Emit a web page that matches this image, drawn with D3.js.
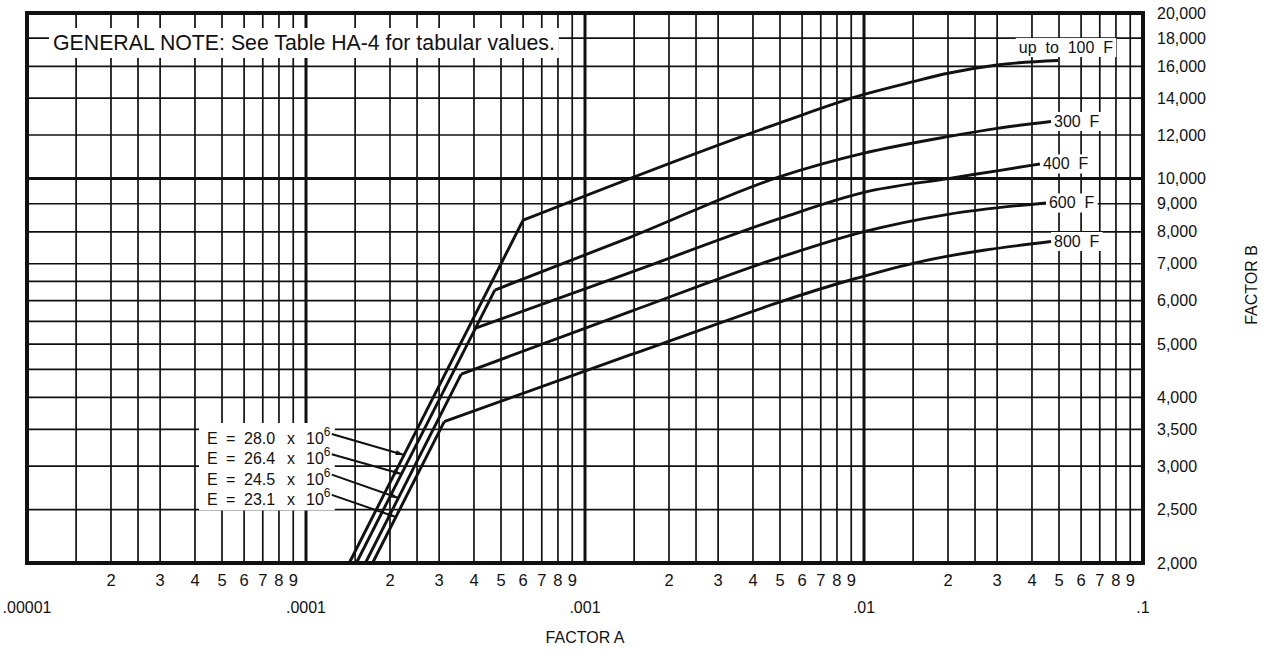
<!DOCTYPE html>
<html>
<head>
<meta charset="utf-8">
<script src="https://cdn.jsdelivr.net/npm/d3@7"></script>
<style>
  html, body { margin: 0; padding: 0; background: #fff; }
  svg { display: block; font-family: "Liberation Sans", Arial, Helvetica, sans-serif; }
  text { fill: #111; }
</style>
</head>
<body>
<svg id="chart" width="1267" height="650"></svg>
<script>
// ---- Factor A (horizontal, log) ----
const decades = [1e-5, 1e-4, 1e-3, 1e-2, 1e-1];
const decadeLabels = [".00001", ".0001", ".001", ".01", ".1"];
const gridMultipliers = [1.5, 2, 2.5, 3, 4, 5, 6, 7, 8, 9];
const digitLabels = [2, 3, 4, 5, 6, 7, 8, 9];

// ---- Factor B (vertical, log) ----
const bTickValues = [2000, 2500, 3000, 3500, 4000, 5000, 6000, 7000, 8000, 9000, 10000, 12000, 14000, 16000, 18000, 20000];
const bGridValues = [2500, 3000, 3500, 4000, 4500, 5000, 5500, 6000, 6500, 7000, 8000, 9000, 10000, 12000, 14000, 16000, 18000];

// ---- Moduli of elasticity (elastic lines B = E*A/2) ----
const modulusValues = [28.0e6, 26.4e6, 24.5e6, 23.1e6];
const modulusLabels = ["28.0", "26.4", "24.5", "23.1"];
const modulusPointerB = [3144, 2903, 2626, 2425];

// ---- Temperature curves (A, B); first point is the knee on the elastic line ----
const tempLabels = ["up  to  100  F", "300  F", "400  F", "600  F", "800  F"];
const tempModulusIndex = [0, 1, 1, 2, 3];
const curve100F = [[6.0e-4, 8400], [5.0e-3, 12630], [1.0e-2, 14220], [1.5e-2, 15000], [2.0e-2, 15540], [3.0e-2, 16090], [4.96e-2, 16390]];
const curve300F = [[4.75e-4, 6270], [1.45e-3, 7820], [5.0e-3, 10080], [1.0e-2, 11120], [2.0e-2, 11920], [3.0e-2, 12340], [4.68e-2, 12700]];
const curve400F = [[4.05e-4, 5346], [1.45e-3, 6744], [5.0e-3, 8466], [1.0e-2, 9440], [2.0e-2, 10000], [3.0e-2, 10330], [4.27e-2, 10630]];
const curve600F = [[3.6e-4, 4410], [1.45e-3, 5727], [5.0e-3, 7191], [1.0e-2, 8006], [2.0e-2, 8610], [4.49e-2, 9028]];
const curve800F = [[3.13e-4, 3615], [1.45e-3, 4778], [9.4e-3, 6588], [1.5e-2, 7013], [4.68e-2, 7684]];
const tempCurves = [curve100F, curve300F, curve400F, curve600F, curve800F];

const noteText = "GENERAL NOTE: See Table HA-4 for tabular values.";

// ---- scales ----
const x = d3.scaleLog().domain([1e-5, 1e-1]).range([27, 1143]);
const y = d3.scaleLog().domain([2000, 20000]).range([563, 13]);

const svg = d3.select("#chart");
const gridLayer = svg.append("g");
const maskLayer = svg.append("g");
const curveLayer = svg.append("g");
const textLayer = svg.append("g");

// vertical grid
const vLines = [];
decades.slice(0, 4).forEach((d, i) => {
  if (i > 0) vLines.push({ v: d, major: true });
  gridMultipliers.forEach(m => vLines.push({ v: d * m, major: false }));
});
gridLayer.selectAll("line.v").data(vLines).join("line")
  .attr("x1", d => x(d.v)).attr("x2", d => x(d.v))
  .attr("y1", y(20000)).attr("y2", y(2000))
  .attr("stroke", "#111")
  .attr("stroke-width", d => d.major ? 3 : 1.7);

// horizontal grid
gridLayer.selectAll("line.h").data(bGridValues).join("line")
  .attr("x1", x(1e-5)).attr("x2", x(1e-1))
  .attr("y1", d => y(d)).attr("y2", d => y(d))
  .attr("stroke", "#111")
  .attr("stroke-width", d => d === 10000 ? 3 : 1.7);

// frame
gridLayer.append("rect")
  .attr("x", x(1e-5)).attr("y", y(20000))
  .attr("width", x(1e-1) - x(1e-5)).attr("height", y(2000) - y(20000))
  .attr("fill", "none").attr("stroke", "#111").attr("stroke-width", 4);

// helper: white backing box behind a text element
function backBox(node, padX, padY) {
  const b = node.getBBox();
  maskLayer.append("rect")
    .attr("x", b.x - padX).attr("y", b.y - padY)
    .attr("width", b.width + 2 * padX).attr("height", b.height + 2 * padY)
    .attr("fill", "#fff");
}

// general note
const note = textLayer.append("text")
  .attr("x", 53).attr("y", 50)
  .attr("font-size", 21.3)
  .text(noteText);
backBox(note.node(), 4, 3);

// elastic (modulus) lines
const line = d3.line().x(d => x(d[0])).y(d => y(d[1]));
modulusValues.forEach((E, i) => {
  const knees = tempCurves.filter((c, j) => tempModulusIndex[j] === i).map(c => c[0][0]);
  const aTop = d3.max(knees);
  const pts = [[2 * 2000 / E, 2000], [aTop, E * aTop / 2]];
  curveLayer.append("path")
    .attr("d", line(pts))
    .attr("fill", "none").attr("stroke", "#111").attr("stroke-width", 2.9);
});

// temperature curves
const smooth = d3.line().x(d => x(d[0])).y(d => y(d[1])).curve(d3.curveMonotoneX);
tempCurves.forEach(c => {
  curveLayer.append("path")
    .attr("d", smooth(c))
    .attr("fill", "none").attr("stroke", "#111").attr("stroke-width", 2.9)
    .attr("stroke-linejoin", "round");
});

// temperature labels
tempCurves.forEach((c, i) => {
  const end = c[c.length - 1];
  const t = textLayer.append("text")
    .attr("font-size", 16)
    .style("white-space", "pre")
    .text(tempLabels[i]);
  if (i === 0) {
    t.attr("x", x(end[0]) + 55).attr("y", y(end[1]) - 13)
     .attr("text-anchor", "end").attr("dominant-baseline", "central");
  } else {
    t.attr("x", x(end[0]) + 3).attr("y", y(end[1]))
     .attr("dominant-baseline", "central");
  }
  backBox(t.node(), 3, 1);
});

// modulus labels with pointer arrows
svg.append("defs").append("marker")
  .attr("id", "tip").attr("viewBox", "0 0 10 6")
  .attr("refX", 10).attr("refY", 3)
  .attr("markerWidth", 9).attr("markerHeight", 5)
  .attr("markerUnits", "userSpaceOnUse")
  .attr("orient", "auto")
  .append("path").attr("d", "M0,0 L10,3 L0,6 Z").attr("fill", "#111");

const eBoxTop = 426, eRowGap = 20.3, eLeft = 207;
const eRows = [];
modulusValues.forEach((E, i) => {
  const ry = eBoxTop + 12 + i * eRowGap;
  const t = textLayer.append("text").attr("y", ry)
    .attr("font-size", 16).attr("dominant-baseline", "central");
  t.append("tspan").attr("x", eLeft).text("E");
  t.append("tspan").attr("x", eLeft + 19).text("=");
  t.append("tspan").attr("x", eLeft + 37).text(modulusLabels[i]);
  t.append("tspan").attr("x", eLeft + 80).text("x");
  t.append("tspan").attr("x", eLeft + 99).text("10");
  t.append("tspan").attr("font-size", 12).attr("dy", -6).text("6");
  eRows.push({ node: t.node(), ry, E, B: modulusPointerB[i] });
});
{
  const boxes = eRows.map(r => r.node.getBBox());
  const x0 = d3.min(boxes, b => b.x) - 8, x1 = d3.max(boxes, b => b.x + b.width) + 4;
  const y0 = d3.min(boxes, b => b.y) - 2, y1 = d3.max(boxes, b => b.y + b.height) + 3;
  maskLayer.append("rect").attr("x", x0).attr("y", y0)
    .attr("width", x1 - x0).attr("height", y1 - y0).attr("fill", "#fff");
}
eRows.forEach(r => {
  const b = r.node.getBBox();
  curveLayer.append("line")
    .attr("x1", b.x + b.width + 1).attr("y1", r.ry - 4)
    .attr("x2", x(2 * r.B / r.E)).attr("y2", y(r.B))
    .attr("stroke", "#111").attr("stroke-width", 2)
    .attr("marker-end", "url(#tip)");
});

// right-hand Factor B labels
textLayer.selectAll("text.b").data(bTickValues).join("text")
  .attr("x", 1157).attr("y", d => y(d))
  .attr("font-size", 16).attr("dominant-baseline", "central")
  .text(d => d3.format(",")(d));

// bottom digit labels
const digitTicks = [];
decades.slice(0, 4).forEach(d => digitLabels.forEach(m => digitTicks.push({ v: d * m, m })));
textLayer.selectAll("text.dg").data(digitTicks).join("text")
  .attr("x", d => x(d.v)).attr("y", 586)
  .attr("font-size", 16.5).attr("text-anchor", "middle")
  .text(d => d.m);

// decade labels
textLayer.selectAll("text.dec").data(decades).join("text")
  .attr("x", d => x(d)).attr("y", 613)
  .attr("font-size", 16).attr("text-anchor", "middle")
  .text((d, i) => decadeLabels[i]);

// axis titles
textLayer.append("text")
  .attr("x", 585).attr("y", 643)
  .attr("font-size", 16).attr("text-anchor", "middle")
  .text("FACTOR A");
textLayer.append("text")
  .attr("transform", "translate(1257,285) rotate(-90)")
  .attr("font-size", 16).attr("text-anchor", "middle")
  .text("FACTOR B");
</script>
</body>
</html>
